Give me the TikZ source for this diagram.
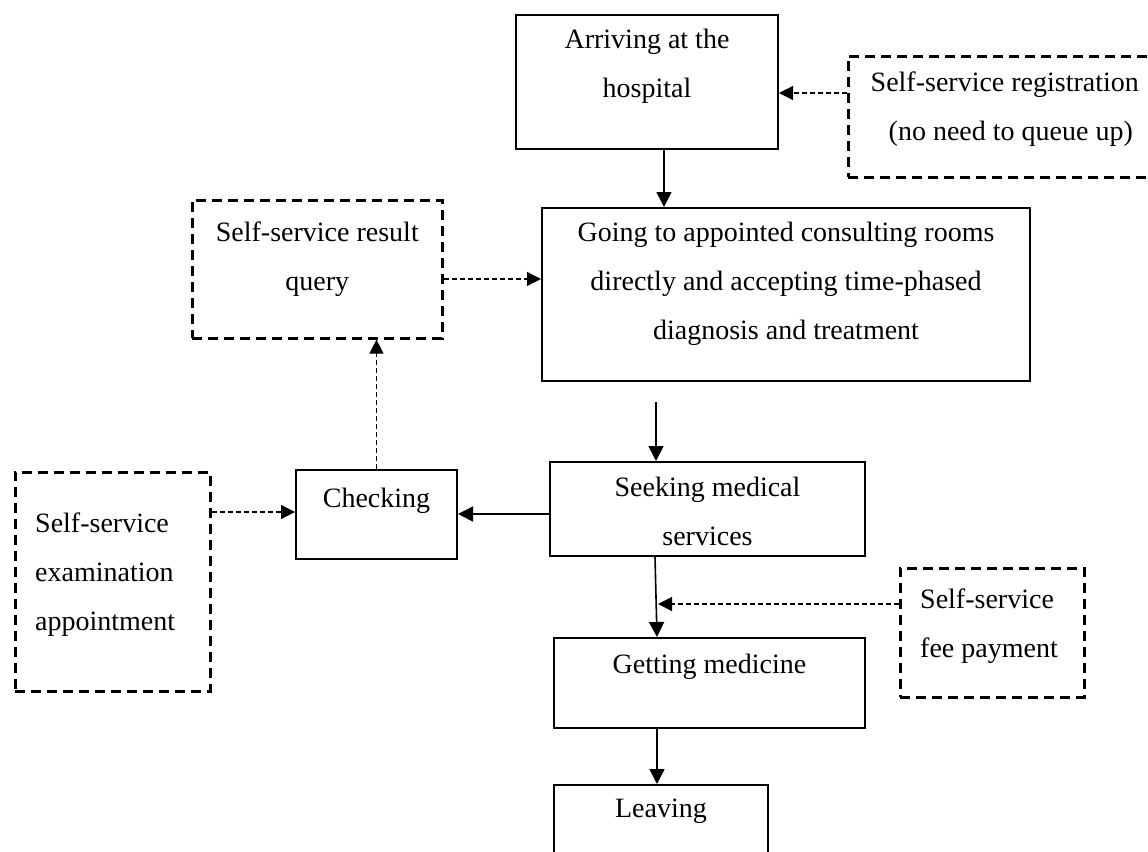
\documentclass[tikz,border=0pt]{standalone}
\usepackage{fontspec}
\setmainfont{Liberation Serif}
\usetikzlibrary{arrows.meta,calc}
\begin{document}
\begin{tikzpicture}[x=1pt,y=-1pt,
  sz/.style 2 args={minimum width=#1pt, minimum height=#2pt},
  solidbox/.style={draw, line width=2pt, anchor=north west, inner sep=0pt},
  dashbox/.style={draw, line width=2.6pt, dash pattern=on 10pt off 6pt, anchor=north west, inner sep=0pt},
  boxtext/.style={inner sep=0pt, align=center, anchor=north, font=\fontsize{28pt}{49pt}\selectfont},
  lefttext/.style={boxtext, align=left, anchor=north west},
  flow/.style={line width=1.6pt, -{Triangle[length=15pt,width=15pt]}},
  aux/.style={line width=1.2pt, dash pattern=on 5pt off 3pt, -{Triangle[length=14pt,width=14pt]}},
]
\useasboundingbox (0,0) rectangle (1148,851);
\clip (0,0) rectangle (1148,851);

% process steps
\node[solidbox, sz={262}{134}] (arrive) at (515,14) {};
\node[solidbox, sz={488}{173}] (going)  at (541,207) {};
\node[solidbox, sz={161}{89}]  (check)  at (295,469) {};
\node[solidbox, sz={315}{94}]  (seek)   at (549,461) {};
\node[solidbox, sz={311}{90}]  (get)    at (553,637) {};
\node[solidbox, sz={214}{100}] (leave)  at (553,784) {};

% self-service options
\node[dashbox, sz={313}{121}] (reg)    at (847,55) {};
\node[dashbox, sz={250}{138}] (result) at (191,199) {};
\node[dashbox, sz={195}{219}] (exam)   at (14,471) {};
\node[dashbox, sz={184}{129}] (fee)    at (899,567) {};

% texts
\node[boxtext] (arrive-t) at ($(arrive.north)+(0,15)$) {Arriving at the\\hospital};
\node[boxtext] (going-t)  at ($(going.north)+(0,15)$) {Going to appointed consulting rooms\\directly and accepting time-phased\\diagnosis and treatment};
\node[boxtext] (check-t)  at ($(check.north)+(0,19)$) {Checking};
\node[boxtext] (seek-t)   at ($(seek.north)+(0,16)$) {Seeking medical\\services};
\node[boxtext] (get-t)    at ($(get.north)+(0,17)$) {Getting medicine};
\node[boxtext] (leave-t)  at ($(leave.north)+(0,15)$) {Leaving};
\node[boxtext] (reg-t)    at ($(reg.north)+(0,17)$) {Self-service registration\\\hspace*{12pt}(no need to queue up)};
\node[boxtext] (result-t) at ($(result.north)+(0,23)$) {Self-service result\\query};
\node[lefttext] (exam-t)  at (35,513) {Self-service\\examination\\appointment};
\node[lefttext] (fee-t)   at (920,589) {Self-service\\fee payment};

% connectors
\coordinate (xa) at (664,0);
\coordinate (xs) at (655,0);
\coordinate (xg) at (657,0);
\coordinate (ya) at (0,93);
\coordinate (yb) at (0,279);
\coordinate (yc) at (0,514);
\coordinate (yd) at (0,512);
\coordinate (gs) at (656,402);
\coordinate (fp) at (658,604);

\draw[flow] (arrive.south -| xa) -- (going.north -| xa);
\draw[aux]  (reg.west |- ya) -- (arrive.east |- ya);
\draw[aux]  (result.east |- yb) -- (going.west |- yb);
\draw[flow] (gs) -- (seek.north -| gs);
\draw[flow] (seek.west |- yc) -- (check.east |- yc);
\draw[aux]  (check.north) -- (check.north |- result.south);
\draw[aux]  (exam.east |- yd) -- (check.west |- yd);
\draw[flow] (seek.south -| xs) -- (get.north -| xg);
\draw[aux]  (fee.west |- fp) -- (fp);
\draw[flow] (get.south -| xg) -- (leave.north -| xg);
\end{tikzpicture}
\end{document}
